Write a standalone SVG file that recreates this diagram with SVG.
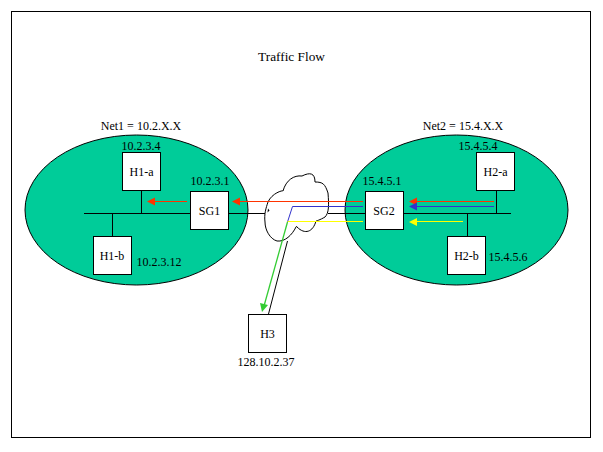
<svg xmlns="http://www.w3.org/2000/svg" width="603" height="452" viewBox="0 0 603 452">
<style>
text{font-family:"Liberation Serif","Times New Roman",serif;font-size:12px;fill:#000}
.m{text-anchor:middle}
.box{fill:#fff;stroke:#000;stroke-width:1}
.net{fill:#00cc99;stroke:#000;stroke-width:1}
.k{stroke:#000;stroke-width:1;fill:none}
.r{stroke:#ff3300;fill:none}
.b{stroke:#3333cc;fill:none}
.y{stroke:#ffff00;fill:none}
.g{stroke:#33cc33;fill:none;stroke-width:1.300}
</style>
<rect width="603" height="452" fill="#fff"/>
<rect x="11.500" y="11.500" width="579" height="426" fill="#fff" stroke="#000"/>
<text id="title" x="291.500" y="61" class="m" style="font-size:13.300px">Traffic Flow</text>
<g id="net1"><ellipse class="net" cx="136.500" cy="210" rx="111.500" ry="75"/><text x="141" y="130" class="m">Net1 = 10.2.X.X</text></g>
<g id="net2"><ellipse class="net" cx="456.500" cy="210" rx="111.500" ry="75"/><text x="463" y="130" class="m">Net2 = 15.4.X.X</text></g>
<g id="connectors">
<path class="k" d="M84 213.500H190M228 213.500H268M328 213.500H365M403 213.500H511M141.500 190V213.500M112.500 213.500V236M496.500 190V213.500M467.500 213.500V236M287.500 241L268.500 314"/>
<path id="cloud" d="M268 202C272 193 283 190 283 191C286 180 294 175 302 176C310 172 315 173 315 182C323 182 325 184 328 193C329 205 329 213 325 217C320 220 316 221 316 221C313 232 305 235 297 227C296 226 297 226 296 227C292 235 285 242 277 241C270 239 265 230 265 222C264 214 266 208 268 202Z" fill="#fff" stroke="#000"/>
<path d="M268 208.500l1.500 2-2 2z" fill="#000"/>
<path class="r" d="M239 201.500H363M152 201.500H187M415 201.500H494"/>
<path class="b" d="M363 206.500H292.500L287.500 222M415 206.500H494"/>
<path class="y" d="M287.500 221.500H363M415 221.500H463"/>
<path class="g" d="M287.500 222L264 306"/>
<path d="M232 201.500L240 197.500V205.500Z" fill="#ff3300"/>
<path d="M147 201.500L155 197.500V205.500Z" fill="#ff3300"/>
<path d="M409 201.500L417 197.500V205.500Z" fill="#ff3300"/>
<path d="M409 206.500L417 202.500V210.500Z" fill="#3333cc"/>
<path d="M409 222L417 218V226Z" fill="#ffff00"/>
<path d="M262 312L260 303L268 305Z" fill="#33cc33"/>
</g>
<g id="h1a"><rect class="box" x="122.500" y="152.500" width="38" height="38"/><text x="141.500" y="176" class="m">H1-a</text><text x="141" y="150" class="m">10.2.3.4</text></g>
<g id="sg1"><rect class="box" x="190.500" y="191.500" width="38" height="38"/><text x="209.500" y="215" class="m">SG1</text><text x="210" y="185" class="m">10.2.3.1</text></g>
<g id="h1b"><rect class="box" x="93.500" y="236.500" width="38" height="38"/><text x="112" y="260" class="m">H1-b</text><text x="159" y="266" class="m">10.2.3.12</text></g>
<g id="h2a"><rect class="box" x="476.500" y="152.500" width="38" height="38"/><text x="495.500" y="176" class="m">H2-a</text><text x="478" y="150" class="m">15.4.5.4</text></g>
<g id="sg2"><rect class="box" x="365.500" y="191.500" width="38" height="38"/><text x="384" y="215" class="m">SG2</text><text x="382" y="185" class="m">15.4.5.1</text></g>
<g id="h2b"><rect class="box" x="447.500" y="236.500" width="38" height="38"/><text x="466.500" y="260" class="m">H2-b</text><text x="508" y="261" class="m">15.4.5.6</text></g>
<g id="h3"><rect class="box" x="248.500" y="314.500" width="38" height="38"/><text x="267.500" y="338" class="m">H3</text><text x="266" y="366" class="m">128.10.2.37</text></g>
</svg>
